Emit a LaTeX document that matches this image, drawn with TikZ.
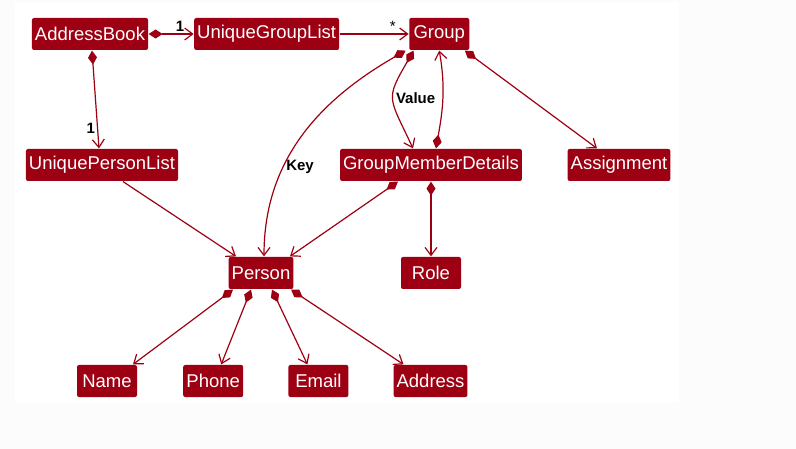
\documentclass[tikz,border=0pt]{standalone}
\usepackage{fontspec}
\setmainfont{Liberation Sans}
\usetikzlibrary{arrows.meta,positioning}
\definecolor{model}{HTML}{9D0012}
\definecolor{paper}{HTML}{FCFCFC}
\tikzset{  cls/.style={fill=model,text=white,rounded corners=2pt,minimum height=32pt,minimum width=60pt,inner xsep=3pt,inner ysep=0pt,font=\fontsize{18.5}{20}\selectfont} }
\tikzset{  comp/.style={{Diamond[length=14pt,width=9pt]}-{Straight Barb[length=8pt,width=12pt]}} }
\tikzset{  lbl/.style={text=black,inner sep=2pt,font=\bfseries\fontsize{15}{17}\selectfont} }

\begin{document}
\begin{tikzpicture}[->,>={Straight Barb[length=8pt,width=12pt]},model,line width=1.2pt,x=1pt,y=1pt]
   \useasboundingbox (0,0) rectangle (796,-449);
   \fill[paper] (0,0) rectangle (796,-449);
   \fill[white] (15,-3) rectangle (679,-403);
   \node[cls] (ab) at (90,-34) {AddressBook};
   \node[cls,right=45pt of ab] (ugl) {UniqueGroupList};
   \node[cls,right=69pt of ugl] (grp) {Group};
   \node[cls] (upl) at (102,-165) {UniquePersonList};
   \node[cls] (gmd) at (431,-165) {GroupMemberDetails};
   \node[cls] (asg) at (619,-165) {Assignment};
   \node[cls,minimum width=64pt] (per) at (261,-273) {Person};
   \node[cls] (role) at (431,-273) {Role};
   \node[cls] (name) at (107,-381) {Name};
   \node[cls,right=45pt of name] (phone) {Phone};
   \node[cls,right=44pt of phone] (email) {Email};
   \node[cls,right=44pt of email] (addr) {Address};
   \draw[comp] (ab) -- node[lbl,pos=0.7,above]{1} (ugl);
   \draw (ugl) -- node[lbl,pos=0.77,above,font=\fontsize{15}{17}\selectfont]{*} (grp);
   \draw[comp] ([xshift=2pt]ab.south) -- node[lbl,pos=0.8,left]{1} ([xshift=-3pt]upl.north);
   \draw ([xshift=21pt]upl.south) -- ([xshift=-25pt]per.north);
   \draw[comp] ([xshift=-3pt]grp.south west) to[out=210,in=90] node[lbl,pos=0.65,right]{Key} ([xshift=3pt]per.north);
   \draw[comp] ([xshift=5pt]grp.south west) to[out=240,in=115,looseness=1.5] node[lbl,pos=0.5,right]{Value} ([xshift=-18pt]gmd.north);
   \draw[comp] ([xshift=5pt]gmd.north) to[out=80,in=-80] (grp.south);
   \draw[comp] ([xshift=-5pt]grp.south east) -- ([xshift=-22pt]asg.north);
   \draw[comp] ([xshift=-33pt]gmd.south) -- ([xshift=29pt]per.north);
   \draw[comp] (gmd.south) -- (role.north);
   \draw[comp] ([xshift=-28pt]per.south) -- ([xshift=26pt]name.north);
   \draw[comp] ([xshift=-10pt]per.south) -- ([xshift=8pt]phone.north);
   \draw[comp] ([xshift=11pt]per.south) -- ([xshift=-11pt]email.north);
   \draw[comp] ([xshift=30pt]per.south) -- ([xshift=-27pt]addr.north);
\end{tikzpicture}
\end{document}
